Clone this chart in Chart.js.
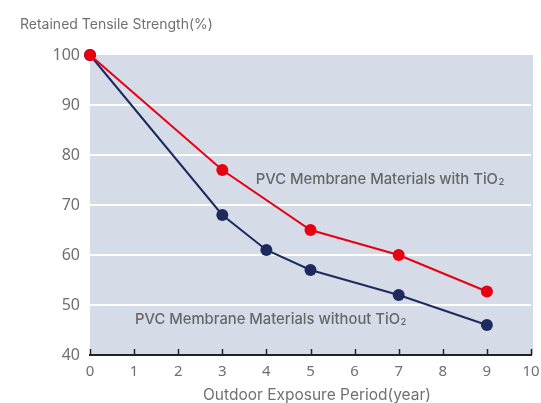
<!DOCTYPE html>
<html>
<head>
<meta charset="utf-8">
<script src="https://cdn.jsdelivr.net/npm/chart.js@4"></script>
<style>
  html, body { margin: 0; padding: 0; background: #fff; }
  #wrap { width: 541px; height: 403px; }
</style>
</head>
<body>
<div id="wrap"><canvas id="chart"></canvas></div>
<script>
// data
const yearsWith = [0, 3, 5, 7, 9];
const strengthWith = [100, 77, 65, 60, 52.7];
const yearsWithout = [0, 3, 4, 5, 7, 9];
const strengthWithout = [100, 68, 61, 57, 52, 46];
const xTicks = [0, 1, 2, 3, 4, 5, 6, 7, 8, 9, 10];
const yTicks = [40, 50, 60, 70, 80, 90, 100];

const FONT = '"Noto Sans", "DejaVu Sans", sans-serif';
const LABEL_FONT = 'Inter, "Noto Sans", sans-serif';
const TEXT_GREY = '#666666';

// grey plot background + inner ticks + text labels
const decorPlugin = {
    id: 'decor',
    beforeDraw(chart) {
        const { ctx, chartArea: a } = chart;
        ctx.save();
        ctx.fillStyle = '#d5dce8';
        ctx.fillRect(a.left, a.top, a.right - a.left + 2, a.bottom - a.top);
        ctx.restore();
    },
    afterDatasetsDraw(chart) {
        const { ctx, chartArea: a, scales } = chart;
        ctx.save();
        // upward tick marks on x axis
        ctx.strokeStyle = '#222';
        ctx.lineWidth = 1.5;
        xTicks.forEach(v => {
            const px = Math.round(scales.x.getPixelForValue(v)) + 0.5;
            ctx.beginPath();
            ctx.moveTo(px, a.bottom);
            ctx.lineTo(px, a.bottom - 6);
            ctx.stroke();
        });
        // series annotations
        ctx.fillStyle = TEXT_GREY;
        ctx.textBaseline = 'middle';
        const drawSub = (main, sub, x, y) => {
            ctx.font = '500 14.8px ' + LABEL_FONT;
            ctx.fillText(main, x, y);
            const w = ctx.measureText(main).width;
            ctx.font = '500 9.5px ' + LABEL_FONT;
            ctx.fillText(sub, x + w + 0.5, y + 2);
        };
        drawSub('PVC Membrane Materials with TiO', '2',
            scales.x.getPixelForValue(3.76), scales.y.getPixelForValue(75));
        drawSub('PVC Membrane Materials without TiO', '2',
            scales.x.getPixelForValue(1.02), scales.y.getPixelForValue(47));
        // axis titles
        ctx.fillStyle = '#707070';
        ctx.font = '14px ' + LABEL_FONT;
        ctx.textAlign = 'left';
        ctx.fillText('Retained Tensile Strength(%)', 20, 25);
        ctx.textAlign = 'center';
        ctx.font = '15.5px ' + LABEL_FONT;
        ctx.fillText('Outdoor Exposure Period(year)', 317, 395);
        ctx.restore();
    }
};

new Chart(document.getElementById('chart'), {
    type: 'line',
    data: {
        datasets: [{
            label: 'PVC Membrane Materials with TiO2',
            data: yearsWith.map((x, i) => ({ x: x, y: strengthWith[i] })),
            borderColor: '#e60012',
            backgroundColor: '#e60012',
            borderWidth: 2,
            pointRadius: 6,
            pointBorderWidth: 0,
            clip: false
        }, {
            label: 'PVC Membrane Materials without TiO2',
            data: yearsWithout.map((x, i) => ({ x: x, y: strengthWithout[i] })),
            borderColor: '#1e2a5e',
            backgroundColor: '#1e2a5e',
            borderWidth: 2,
            pointRadius: 6,
            pointBorderWidth: 0,
            clip: false
        }]
    },
    options: {
        responsive: true,
        maintainAspectRatio: false,
        animation: false,
        layout: { padding: { top: 55, right: 10, left: 0, bottom: 0 } },
        plugins: {
            legend: { display: false },
            tooltip: { enabled: false }
        },
        scales: {
            x: {
                type: 'linear',
                min: 0,
                max: 10,
                afterBuildTicks: s => { s.ticks = xTicks.map(v => ({ value: v })); },
                afterFit: s => { s.height = 48; s.paddingLeft = 0; s.paddingRight = 0; },
                grid: { drawOnChartArea: false, drawTicks: false },
                border: { display: true, color: '#222', width: 2 },
                ticks: {
                    color: '#707070',
                    padding: 8,
                    maxRotation: 0,
                    font: { family: FONT, size: 15 }
                }
            },
            y: {
                min: 40,
                max: 100,
                afterBuildTicks: s => { s.ticks = yTicks.map(v => ({ value: v })); },
                afterFit: s => { s.width = 90; s.paddingTop = 0; s.paddingBottom = 0; },
                grid: {
                    drawTicks: false,
                    lineWidth: 2,
                    color: c => (c.tick && (c.tick.value === 100 || c.tick.value === 40)) ? 'rgba(0,0,0,0)' : '#ffffff'
                },
                border: { display: false },
                ticks: {
                    color: '#707070',
                    padding: 10,
                    font: { family: FONT, size: 16 }
                }
            }
        }
    },
    plugins: [decorPlugin]
});
</script>
</body>
</html>
